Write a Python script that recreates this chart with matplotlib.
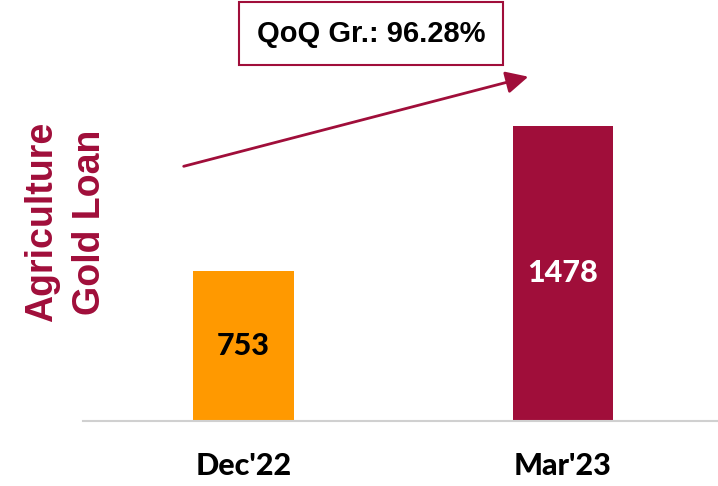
import numpy as np
import matplotlib
matplotlib.use("Agg")
import matplotlib.pyplot as plt

# data
periods = ["Dec'22", "Mar'23"]
loan_values = [753, 1478]
growth_text = "QoQ Gr.: 96.28%"
bar_colors = ["#FF9900", "#A00E3A"]
label_colors = ["black", "white"]

crimson = "#A00E3A"

fig = plt.figure(figsize=(7.18, 4.86), dpi=100)
W, H = 718, 486
base_y = 421
ax = fig.add_axes([83 / W, (H - base_y) / H, 1 - 83 / W, base_y / H])

x = np.arange(len(periods))
bars = ax.bar(x, loan_values, width=0.316, color=bar_colors)

ax.set_xlim(-0.502, 1.485)
ax.set_ylim(0, 2109)

for rect, val, c in zip(bars, loan_values, label_colors):
    ax.text(rect.get_x() + rect.get_width() / 2, val / 2, str(val),
            ha="center", va="center", color=c, fontsize=22,
            fontweight="black", family="Lato")

for side in ["top", "right", "left"]:
    ax.spines[side].set_visible(False)
ax.spines["bottom"].set_color("#d0d0d0")
ax.spines["bottom"].set_linewidth(1.5)
ax.set_yticks([])
ax.set_xticks(x)
ax.set_xticklabels(periods, fontsize=22, fontweight="black", family="Lato")
ax.tick_params(axis="x", length=0, pad=22)

# y label
fig.text(66 / W, 1 - 222 / H, "Agriculture\nGold Loan", rotation=90,
         ha="center", va="center", color=crimson, fontsize=27,
         fontweight="bold", family="Liberation Sans", linespacing=1.45)

# growth box
fig.text(371 / W, 1 - 34 / H, growth_text, ha="center", va="center",
         fontsize=21, fontweight="bold", family="Liberation Sans",
         bbox=dict(boxstyle="square,pad=0.6", fc="white", ec=crimson, lw=1.5))

# arrow
fig.add_artist(matplotlib.patches.FancyArrowPatch(
    (181 / W, 1 - 167 / H), (531 / W, 1 - 76 / H),
    transform=fig.transFigure, arrowstyle="-|>,head_length=9,head_width=4.5",
    color=crimson, lw=2, mutation_scale=1.5))

fig.savefig("out.png", dpi=100)
